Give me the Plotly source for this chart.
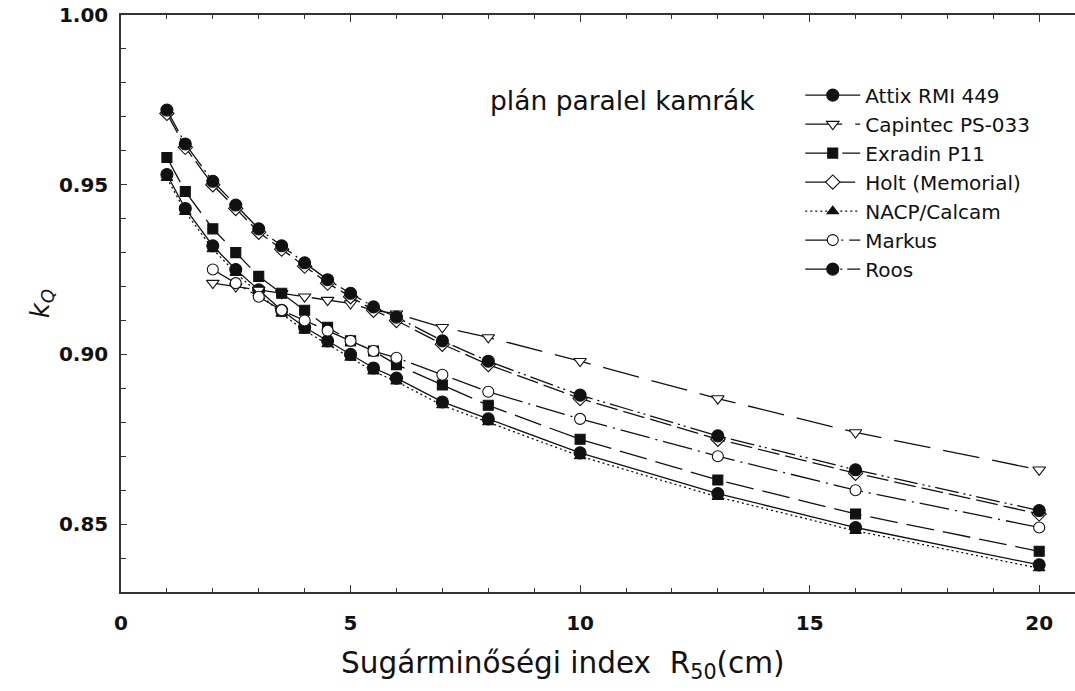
import plotly.graph_objects as go

# R50 values (cm)
r50 = [1.0, 1.4, 2.0, 2.5, 3.0, 3.5, 4.0, 4.5, 5.0, 5.5, 6.0, 7.0, 8.0, 10.0, 13.0, 16.0, 20.0]
r50_short = r50[2:]

attix = [0.953, 0.943, 0.932, 0.925, 0.919, 0.913, 0.908, 0.904, 0.900, 0.896, 0.893, 0.886, 0.881, 0.871, 0.859, 0.849, 0.838]
capintec = [0.921, 0.920, 0.919, 0.918, 0.917, 0.916, 0.915, 0.913, 0.912, 0.908, 0.905, 0.898, 0.887, 0.877, 0.866]
exradin = [0.958, 0.948, 0.937, 0.930, 0.923, 0.918, 0.913, 0.908, 0.904, 0.901, 0.897, 0.891, 0.885, 0.875, 0.863, 0.853, 0.842]
holt = [0.971, 0.961, 0.950, 0.943, 0.936, 0.931, 0.926, 0.921, 0.917, 0.913, 0.910, 0.903, 0.897, 0.887, 0.875, 0.865, 0.853]
nacp = [0.952, 0.942, 0.931, 0.924, 0.918, 0.912, 0.907, 0.903, 0.899, 0.895, 0.892, 0.885, 0.880, 0.870, 0.858, 0.848, 0.837]
markus = [0.925, 0.921, 0.917, 0.913, 0.910, 0.907, 0.904, 0.901, 0.899, 0.894, 0.889, 0.881, 0.870, 0.860, 0.849]
roos = [0.972, 0.962, 0.951, 0.944, 0.937, 0.932, 0.927, 0.922, 0.918, 0.914, 0.911, 0.904, 0.898, 0.888, 0.876, 0.866, 0.854]

x_ticks = [0, 5, 10, 15, 20]
y_ticks = [0.85, 0.90, 0.95, 1.00]
y_tick_text = ["0.85", "0.90", "0.95", "1.00"]

FONT = "DejaVu Sans, Liberation Sans, Arial, sans-serif"
INK = "#111111"

series = [
    # name, x, y, symbol, size, dash, rank
    ("NACP/Calcam", r50, nacp, "triangle-up", 10, "2px,3px", 5),
    ("Attix RMI 449", r50, attix, "circle", 12, "solid", 1),
    ("Capintec PS-033", r50_short, capintec, "triangle-down-open", 11, "37px,13px", 2),
    ("Exradin P11", r50, exradin, "square", 10, "28px,9px", 3),
    ("Holt (Memorial)", r50, holt, "diamond-open", 11, "22px,6px", 4),
    ("Markus", r50_short, markus, "circle-open", 11, "30px,6px,2px,6px", 6),
    ("Roos", r50, roos, "circle", 12, "24px,5px,2px,4px,2px,5px", 7),
]

fig = go.Figure()
for name, xs, ys, sym, size, dash, rank in series:
    open_ = sym.endswith("-open")
    fig.add_trace(go.Scatter(
        x=xs, y=ys, name=name, mode="lines+markers",
        legendrank=rank,
        legendgroup=name,
        line=dict(color=INK, width=1.3, dash=dash),
        marker=dict(symbol=sym.replace("-open", ""), size=size,
                    color="white" if open_ else INK,
                    line=dict(color=INK, width=1.1)),
    ))

fig.add_annotation(
    text="plán paralel kamrák", xref="paper", yref="paper",
    x=0.6666, y=0.851, xanchor="right", yanchor="middle",
    showarrow=False, font=dict(family=FONT, size=26.5, color=INK),
)
fig.add_annotation(
    text="Sugárminőségi index&nbsp;&nbsp;R<sub>50</sub>(cm)", xref="paper", yref="paper",
    x=(563 - 121) / 954, y=-(665 - 592) / 577, xanchor="center", yanchor="middle",
    showarrow=False, font=dict(family=FONT, size=29.5, color=INK),
)

fig.update_layout(
    width=1075, height=691,
    margin=dict(l=121, r=0, t=15, b=99),
    paper_bgcolor="white", plot_bgcolor="white",
    showlegend=True,
    legend=dict(
        x=0.712, y=0.895, xanchor="left", yanchor="top",
        font=dict(family=FONT, size=20, color=INK),
        itemwidth=55, tracegroupgap=0,
        bgcolor="rgba(0,0,0,0)", traceorder="grouped",
    ),
    font=dict(family=FONT, color=INK),
)

fig.update_xaxes(
    range=[0, 20.78], showgrid=False, zeroline=False,
    showline=True, linecolor="#333333", linewidth=1.5, mirror="ticks",
    tickmode="array", tickvals=x_ticks, ticktext=[str(v) for v in x_ticks],
    ticks="inside", ticklen=7, tickwidth=1.2, tickcolor="#333333",
    minor=dict(dtick=1, ticks="inside", ticklen=4, tickwidth=1.2, tickcolor="#333333"),
    tickfont=dict(family=FONT, size=20, color=INK, weight="bold"),
    ticklabelstandoff=12,
)
fig.update_yaxes(
    range=[0.83, 1.00], showgrid=False, zeroline=False,
    showline=True, linecolor="#333333", linewidth=1.5,
    tickmode="array", tickvals=y_ticks, ticktext=y_tick_text,
    ticks="inside", ticklen=6, tickwidth=1.2, tickcolor="#333333",
    minor=dict(dtick=0.01, tick0=0.83, ticks="inside", ticklen=5, tickwidth=1.2, tickcolor="#333333"),
    tickfont=dict(family=FONT, size=20, color=INK, weight="bold"),
    ticklabelstandoff=7,
    title=dict(text="<i>k<sub>Q</sub></i>", font=dict(family=FONT, size=26, color=INK), standoff=2),
)

fig.write_html("out.html")
